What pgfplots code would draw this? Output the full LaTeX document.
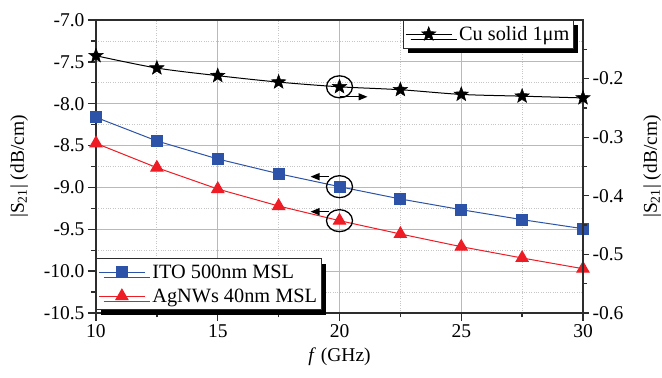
\documentclass[border=0pt]{standalone}
\usepackage{fontspec}
\setmainfont{Liberation Serif}
\usepackage{pgfplots}
\pgfplotsset{compat=1.18}
\usetikzlibrary{shadows,arrows.meta}
\definecolor{itoblue}{RGB}{44,83,167}
\definecolor{agred}{RGB}{238,28,36}
\definecolor{axgray}{RGB}{45,45,45}
\tikzset{myarrow/.style={black, line width=1.3bp, -{Triangle[length=9bp,width=7bp]}}}
\pgfdeclareplotmark{fstar}{%
  \pgfpathmoveto{\pgfpointpolar{90}{\pgfplotmarksize}}%
  \pgfpathlineto{\pgfpointpolar{126}{0.42\pgfplotmarksize}}%
  \pgfpathlineto{\pgfpointpolar{162}{\pgfplotmarksize}}%
  \pgfpathlineto{\pgfpointpolar{198}{0.42\pgfplotmarksize}}%
  \pgfpathlineto{\pgfpointpolar{234}{\pgfplotmarksize}}%
  \pgfpathlineto{\pgfpointpolar{270}{0.42\pgfplotmarksize}}%
  \pgfpathlineto{\pgfpointpolar{306}{\pgfplotmarksize}}%
  \pgfpathlineto{\pgfpointpolar{342}{0.42\pgfplotmarksize}}%
  \pgfpathlineto{\pgfpointpolar{18}{\pgfplotmarksize}}%
  \pgfpathlineto{\pgfpointpolar{54}{0.42\pgfplotmarksize}}%
  \pgfpathclose
  \pgfusepathqfillstroke}
\begin{document}
\begin{tikzpicture}
\useasboundingbox (-96bp,-65bp) rectangle (566bp,313bp);
\pgfplotsset{
  every axis/.append style={
    scale only axis, width=487bp, height=293bp, at={(0,0)}, anchor=south west,
    font=\fontsize{19.5bp}{23bp}\selectfont,
    xmin=10, xmax=30,
    /pgf/number format/assume math mode=true,
    axis line style={axgray, line width=1.3bp},
    tick style={axgray, line width=1.3bp},
    tick align=outside,
  },
  mylegend/.style={
    legend style={draw=axgray, line width=0.8bp, fill=white,
      drop shadow={shadow xshift=5bp, shadow yshift=-5bp, fill=black, opacity=1},
      inner xsep=2bp, inner ysep=4bp, column sep=5bp, row sep=5bp,
      font=\fontsize{20.3bp}{23bp}\selectfont},
    legend cell align=left,
    legend image code/.code={\draw[mark repeat=2,mark phase=2] plot coordinates {(0bp,0bp) (23bp,0bp) (46bp,0bp)};},
  },
}
\begin{axis}[
  mylegend,
  ymin=-10.5, ymax=-7,
  xtick={10,15,20,25,30}, minor xtick={12.5,17.5,22.5,27.5},
  ytick={-10.5,-10,-9.5,-9,-8.5,-8,-7.5,-7},
  minor ytick={-10.25,-9.75,-9.25,-8.75,-8.25,-7.75,-7.25},
  xtick pos=bottom, ytick pos=left,
  major tick length=8bp, minor tick length=4.5bp,
  grid=both,
  major grid style={gray!55, line width=0.8bp},
  minor grid style={gray!45, dotted, line width=0.8bp},
  y tick label style={/pgf/number format/fixed, /pgf/number format/fixed zerofill, /pgf/number format/precision=1},
  xlabel={\textit{f} (GHz)},
  ylabel={|S\textsubscript{21}| (dB/cm)},
  xlabel shift=3bp, ylabel shift=9bp,
  legend style={at={(0,0.01)}, anchor=south west},
]
\addplot[itoblue, line width=1bp, mark=square*, mark size=5.5bp, mark options={solid}] coordinates {
  (10,-8.163) (12.5,-8.445) (15,-8.660) (17.5,-8.836) (20,-8.991)
  (22.5,-9.138) (25,-9.266) (27.5,-9.385) (30,-9.493)};
\addlegendentry{ITO 500nm MSL}
\addplot[agred, line width=1bp, mark=triangle*, mark size=7bp, mark options={solid}] coordinates {
  (10,-8.473) (12.5,-8.764) (15,-9.019) (17.5,-9.222) (20,-9.397)
  (22.5,-9.556) (25,-9.708) (27.5,-9.843) (30,-9.971)};
\addlegendentry{AgNWs 40nm MSL}
\draw[black, line width=1.3bp] (axis cs:20,-8.991) ellipse [x radius=13bp, y radius=11bp];
\draw[black, line width=1.3bp] (axis cs:20,-9.397) ellipse [x radius=13bp, y radius=11bp];
\draw[myarrow] ([xshift=-11bp,yshift=10bp]axis cs:20,-8.991) -- ++(-18bp,0bp);
\draw[myarrow] ([xshift=-11bp,yshift=9bp]axis cs:20,-9.397) -- ++(-18bp,0bp);
\end{axis}
\begin{axis}[
  mylegend,
  ymin=-0.6, ymax=-0.1,
  axis y line*=right, axis x line=none,
  ytick={-0.6,-0.5,-0.4,-0.3,-0.2},
  minor ytick={-0.55,-0.45,-0.35,-0.25,-0.15},
  major tick length=6bp, minor tick length=4bp,
  y tick label style={/pgf/number format/fixed, /pgf/number format/fixed zerofill, /pgf/number format/precision=1},
  ylabel={|S\textsubscript{21}| (dB/cm)},
  ylabel shift=13bp,
  legend style={at={(0.630,1)}, anchor=north west},
]
\addplot[black, line width=1bp, smooth, mark=fstar, mark size=7.5bp, mark options={solid, line width=0.5bp}] coordinates {
  (10,-0.161) (12.5,-0.182) (15,-0.195) (17.5,-0.206) (20,-0.214)
  (22.5,-0.219) (25,-0.227) (27.5,-0.230) (30,-0.233)};
\addlegendentry{Cu solid 1μm}
\draw[black, line width=1.3bp] (axis cs:20,-0.214) ellipse [x radius=13bp, y radius=11bp];
\draw[myarrow] ([yshift=-10bp]axis cs:20,-0.214) -- ++(28bp,0bp);
\end{axis}
\end{tikzpicture}
\end{document}
